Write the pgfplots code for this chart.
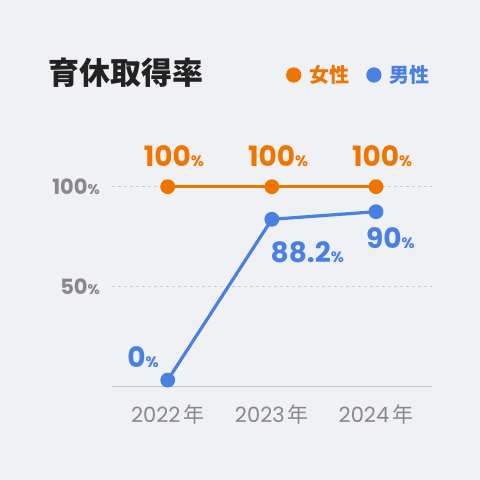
\documentclass[border=0pt]{standalone}
\usepackage{pgfplots}
\pgfplotsset{compat=1.18}
\usepackage{fontspec}
\setmainfont{Poppins}
\newfontfamily\jp{Noto Sans CJK JP}
\definecolor{bgc}{HTML}{F0F1F4}
\definecolor{orc}{HTML}{F07400}
\definecolor{blc}{HTML}{4A80E2}
\definecolor{txg}{HTML}{888888}
\definecolor{grd}{HTML}{C8C8C8}
\definecolor{ttl}{HTML}{222222}
\newcommand{\fs}[1]{\fontsize{#1}{#1}\selectfont}
\newcommand{\pc}[1]{{\fs{#1}\%}}

\begin{document}
\begin{tikzpicture}
\fill[bgc] (0,0) rectangle (480bp,480bp);
\useasboundingbox (0,0) rectangle (480bp,480bp);
% title
\node[anchor=west, inner sep=0pt, text=ttl] at (48bp,407bp) {\jp\bfseries\fs{31bp}育休取得率};

\begin{axis}[
  at={(112bp,93.3bp)}, anchor=south west,
  scale only axis, width=319.7bp, height=200bp,
  xmin=-0.535, xmax=2.535, ymin=0, ymax=100,
  clip=false,
  axis x line=bottom, axis y line=left,
  x axis line style={-, draw=grd, line width=1.5bp},
  y axis line style={draw=none},
  major tick length=0pt,
  xtick={0,1,2},
  xticklabels={{2022\hspace{3bp}{\jp 年}}, {2023\hspace{3bp}{\jp 年}}, {2024\hspace{3bp}{\jp 年}}},
  ytick={50,100},
  yticklabels={{\bfseries 50\pc{14bp}}, {\bfseries 100\pc{14bp}}},
  ymajorgrids,
  grid style={draw=grd, line width=1bp, dash pattern=on 3bp off 3bp},
  xticklabel style={anchor=base, inner sep=0pt, yshift=-36bp, text=txg, font=\fs{21bp}},
  yticklabel style={anchor=east, inner sep=0pt, xshift=-12bp, text=txg, font=\fs{21bp}},
  legend columns=2,
  legend image code/.code={\fill (0bp,0bp) circle (6bp);},
  legend style={draw=none, fill=none, at={(axis description cs:1,1.5585)}, anchor=east,
    inner sep=0pt, /tikz/every even column/.append style={column sep=15bp}},
]
\addplot[orc, line width=3.2bp, mark=*, mark size=5.8bp] coordinates {(0,100) (1,100) (2,100)};
\addlegendentry{\hspace*{6bp}\textcolor{orc}{\jp\bfseries\fs{20bp}女性}}
\addplot[blc, line width=3.2bp, mark=*, mark size=5.8bp] coordinates {(0,3.3) (1,83.7) (2,87.5)};
\addlegendentry{\hspace*{6bp}\textcolor{blc}{\jp\bfseries\fs{20bp}男性}}

% value labels
\node[anchor=base, inner sep=0pt, text=orc] at (axis cs:0.06,110) {\bfseries\fs{28bp}100\pc{15bp}};
\node[anchor=base, inner sep=0pt, text=orc] at (axis cs:1.06,110) {\bfseries\fs{28bp}100\pc{15bp}};
\node[anchor=base, inner sep=0pt, text=orc] at (axis cs:2.06,110) {\bfseries\fs{28bp}100\pc{15bp}};
\node[anchor=base, inner sep=0pt, text=blc] at (axis cs:-0.237,9.5) {\bfseries\fs{28bp}0\pc{15bp}};
\node[anchor=base, inner sep=0pt, text=blc] at (axis cs:1.34,61.85) {\bfseries\fs{28bp}88.2\pc{15bp}};
\node[anchor=base, inner sep=0pt, text=blc] at (axis cs:2.139,68.85) {\bfseries\fs{28bp}90\pc{15bp}};
\end{axis}
\end{tikzpicture}
\end{document}
